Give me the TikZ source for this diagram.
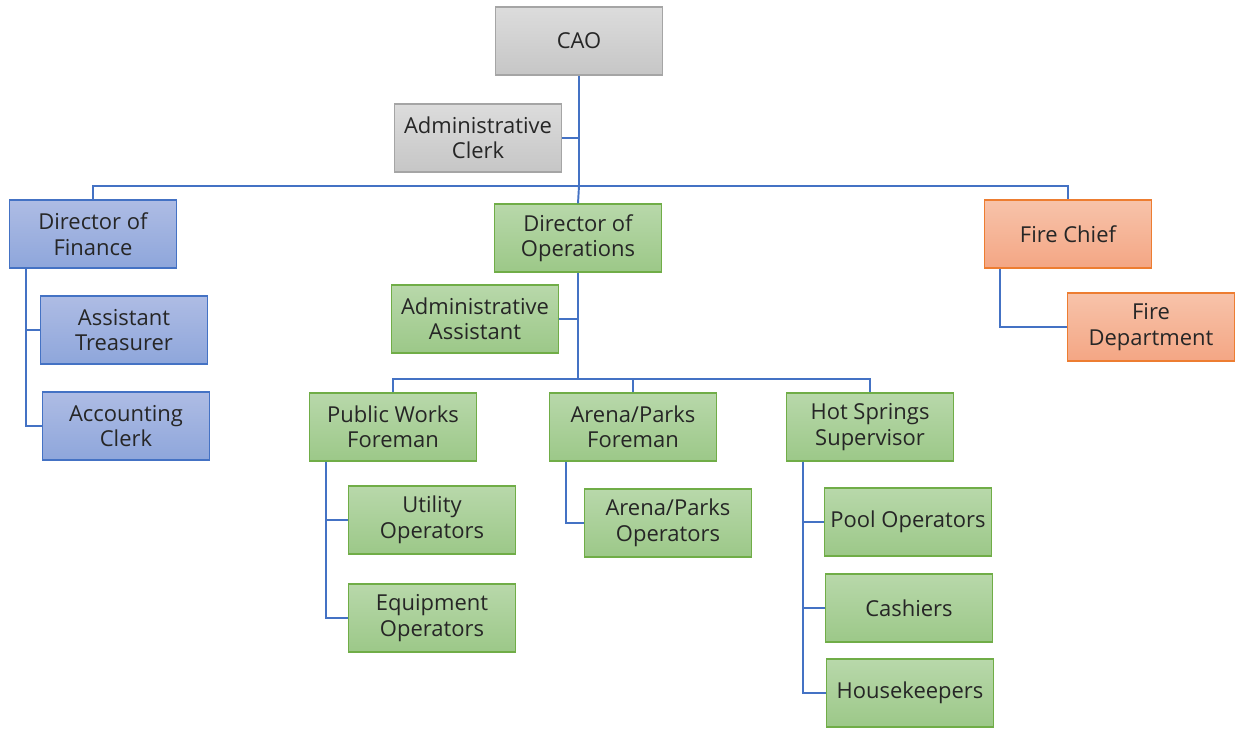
\documentclass[tikz,border=0pt]{standalone}
\usepackage{fontspec}
\setmainfont{Open Sans}
\usepackage{xcolor}
\usepackage{tikz}
\usetikzlibrary{positioning}
\usetikzlibrary{calc}
\definecolor{linkblue}{HTML}{4472C4}
\definecolor{greytop}{HTML}{DCDCDC}
\definecolor{greybot}{HTML}{C6C6C6}
\definecolor{greyline}{HTML}{A5A5A5}
\definecolor{bluetop}{HTML}{AEBCE4}
\definecolor{bluebot}{HTML}{8EA6DB}
\definecolor{greentop}{HTML}{B8D8AA}
\definecolor{greenbot}{HTML}{9CC888}
\definecolor{greenline}{HTML}{70AD47}
\definecolor{orangetop}{HTML}{F7C3AA}
\definecolor{orangebot}{HTML}{F4A684}
\definecolor{orangeline}{HTML}{ED7D31}

\begin{document}
\begin{tikzpicture}[x=0.02cm, y=-0.02cm,
    link/.style={draw=linkblue, line width=1.1pt},
    greybox/.style={top color=greytop, bottom color=greybot, draw=greyline},
    bluebox/.style={top color=bluetop, bottom color=bluebot, draw=linkblue},
    greenbox/.style={top color=greentop, bottom color=greenbot, draw=greenline},
    orangebox/.style={top color=orangetop, bottom color=orangebot, draw=orangeline}]
    \useasboundingbox (0,0) rectangle (1236,728);
    \begin{scope}[every node/.style={draw,
        minimum width=3.34cm,
        minimum height=1.36cm,
        inner sep=0mm,
        align=center,
        text=black!85,
        line width=0.8pt,
        font=\fontsize{12.5}{14.5}\selectfont}]
        \node[greybox] at (579,41) (cao) {CAO};
        \node[greybox] at (478,138) (aclerk) {Administrative\\Clerk};
        \node[bluebox] at (93,234) (dfin) {Director of\\Finance};
        \node[greenbox] at (578,238) (dops) {Director of\\Operations};
        \node[orangebox] at (1068,234) (fchief) {Fire Chief};
        \node[orangebox] at (1151,327) (fdept) {Fire\\Department};
        \node[bluebox] at (124,330) (atreas) {Assistant\\Treasurer};
        \node[bluebox] at (126,426) (acclerk) {Accounting\\Clerk};
        \node[greenbox] at (475,319) (aassist) {Administrative\\Assistant};
        \node[greenbox] at (393,427) (pwf) {Public Works\\Foreman};
        \node[greenbox] at (633,427) (apf) {Arena/Parks\\Foreman};
        \node[greenbox] at (870,427) (hss) {Hot Springs\\Supervisor};
        \node[greenbox] at (432,520) (utilop) {Utility\\Operators};
        \node[greenbox] at (432,618) (equipop) {Equipment\\Operators};
        \node[greenbox] at (668,523) (apop) {Arena/Parks\\Operators};
        \node[greenbox] at (908,522) (poolop) {Pool Operators};
        \node[greenbox] at (909,608) (cashier) {Cashiers};
        \node[greenbox] at (910,693) (housek) {Housekeepers};
    \end{scope}
    % top level
    \coordinate (bus1) at (579,186);
    \draw[link] (cao.south) -- (bus1);
    \draw[link] (aclerk.east) -- (aclerk.east -| cao.south);
    \draw[link] (dfin.north) |- (bus1) -| (fchief.north);
    \draw[link] (bus1) -- (dops.north);
    % finance
    \draw[link] ($(dfin.south west)+(17,0)$) |- (atreas.west);
    \draw[link] ($(dfin.south west)+(17,0)$) |- (acclerk.west);
    % fire
    \draw[link] ($(fchief.south west)+(16,0)$) |- (fdept.west);
    % operations
    \coordinate (bus2) at (578,379);
    \draw[link] (dops.south) -- (bus2);
    \draw[link] (aassist.east) -- (aassist.east -| dops.south);
    \draw[link] (pwf.north) |- (bus2) -| (hss.north);
    \draw[link] (apf.north) -- (apf.north |- bus2);
    \draw[link] ($(pwf.south west)+(17,0)$) |- (utilop.west);
    \draw[link] ($(pwf.south west)+(17,0)$) |- (equipop.west);
    \draw[link] ($(apf.south west)+(17,0)$) |- (apop.west);
    \draw[link] ($(hss.south west)+(17,0)$) |- (poolop.west);
    \draw[link] ($(hss.south west)+(17,0)$) |- (cashier.west);
    \draw[link] ($(hss.south west)+(17,0)$) |- (housek.west);
\end{tikzpicture}
\end{document}
